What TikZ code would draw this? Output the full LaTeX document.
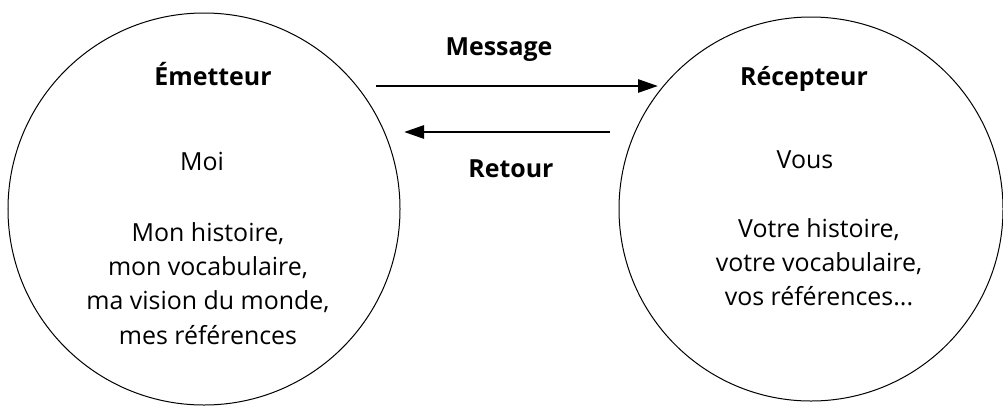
\documentclass[tikz,border=0pt]{standalone}
\usepackage{fontspec}
\setmainfont{Open Sans}
\usetikzlibrary{arrows.meta}
\tikzset{
  bubble/.style={circle, draw, line width=1bp, inner sep=0pt},
  lbl/.style={font={\fontsize{25}{34.5}\selectfont}, align=center, inner sep=0pt},
  hd/.style={font={\fontsize{25}{34.5}\selectfont\bfseries}, align=center, inner sep=0pt, anchor=base},
  flow/.style={line width=2.8bp, -{Triangle[length=20bp, width=13bp]}}
}
\begin{document}
\begin{tikzpicture}[x=1bp, y=-1bp]
\useasboundingbox (0,0) rectangle (1003,405);
\node[bubble, minimum size=392bp] (em) at (204,209) {};
\node[bubble, minimum size=384bp] (re) at (811,209) {};
\node[hd] (emt) at (213,85) {Émetteur};
\node[lbl, anchor=base] (moi) at (202,170) {Moi};
\node[lbl, anchor=north] (emtxt) at (208,222) {Mon histoire,\\mon vocabulaire,\\ma vision du monde,\\mes références};
\node[hd] (ret) at (804,85) {Récepteur};
\node[lbl, anchor=base] (vous) at (805,168) {Vous};
\node[lbl, anchor=north] (retxt) at (819,218) {Votre histoire,\\votre vocabulaire,\\vos références...};
\node[hd] (msg) at (499,55) {Message};
\node[hd] (rtr) at (511,177) {Retour};
\coordinate (m1) at (376,86);
\coordinate (m2) at (658,86);
\coordinate (r1) at (610,132);
\coordinate (r2) at (404,132);
\draw[flow] (m1) -- (m2);
\draw[flow] (r1) -- (r2);
\end{tikzpicture}
\end{document}
